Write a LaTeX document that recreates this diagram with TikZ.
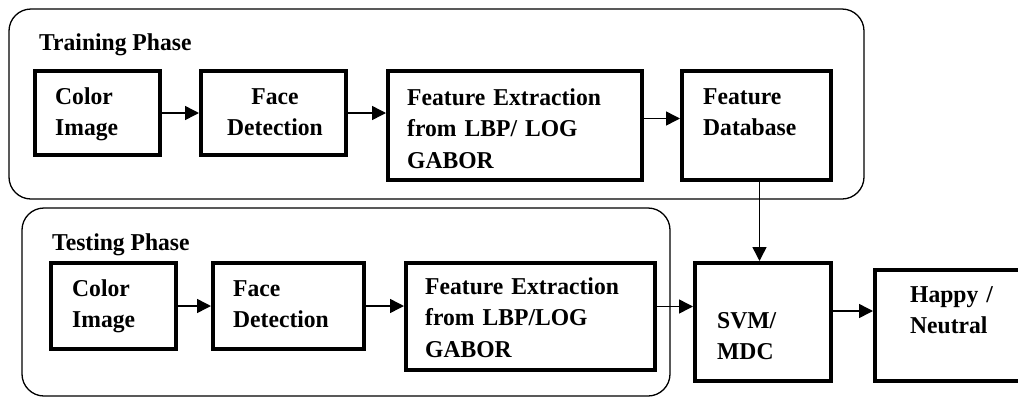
\documentclass[tikz,border=0pt]{standalone}
\usepackage{fontspec}
\setmainfont{Liberation Serif}[FakeStretch=0.975]
\usetikzlibrary{arrows.meta}

\tikzset{
	phase/.style={draw, line width=1.3pt, rounded corners=22pt},
	phasetext/.style={font=\fontsize{24.2}{31.5}\selectfont\bfseries, inner sep=0pt, anchor=base west},
	block/.style={draw, line width=4pt, rectangle, inner sep=0pt, anchor=north west},
	blocktext/.style={font=\fontsize{24.2}{31.5}\selectfont\bfseries, inner sep=0pt, text width=280pt, align=left, anchor=base west},
	flow/.style={line width=1.5pt, -{Triangle[length=14pt,width=14pt]}}
}

\begin{document}
\begin{tikzpicture}[x=1pt,y=-1pt]
		\useasboundingbox (0,0) rectangle (1018,397);
		\clip (0,0) rectangle (1018,397);
		
		% the two rounded frames
		\draw[phase] (9,9) rectangle (864,199);
		\draw[phase] (22,208) rectangle (670,396);
		\node[phasetext] (train) at (39,50) {Training Phase};
		\node[phasetext] (test) at (52,250) {Testing Phase};
		
		% the blocks (top left corner, width, height)
		\foreach \n/\x/\y/\w/\h in {ci1/33/69/125/84, fd1/199/69/145/84, fe1/386/69/254/109, db/680/69/149/109,
			ci2/49/261/125/86, fd2/211/261/151/86, fe2/404/261/249/107, svm/693/261/136/118, hn/873/268/160/111}
		{
			\node[block, minimum width=\w pt, minimum height=\h pt] (\n) at (\x,\y) {};
		}
		
		% texts inside the blocks
		\foreach \n/\x/\y/\texto in {ci1/55/104/{Color\\Image}, fe1/407/105/{Feature Extraction\\from LBP/ LOG\\GABOR},
			db/703/104/{Feature\\Database}, ci2/72/296/{Color\\Image}, fd2/233/296/{Face\\Detection},
			fe2/425/294/{Feature Extraction\\from LBP/LOG\\GABOR}, svm/717/328/{SVM/\\MDC}, hn/910/302/{Happy /\\Neutral}}
		{
			\node[blocktext] (\n-t) at (\x,\y) {\texto};
		}
		\node[blocktext, text width=120pt, align=center, anchor=base] (fd1-t) at (275,104) {Face\\Detection};
		
		% training arrows
		\draw[flow] (ci1) -- (fd1);
		\draw[flow] (fd1.east) -- (fd1.east -| fe1.west);
		\draw[flow] ([yshift=7pt]fe1.east) -- ([yshift=7pt]db.west);
		% database down to the classifier
		\draw[flow] ([xshift=3pt]db.south) -- ([xshift=3pt]db.south |- svm.north);
		% testing arrows
		\draw[flow] (ci2) -- (fd2);
		\draw[flow] (fd2.east) -- (fd2.east -| fe2.west);
		\draw[flow] ([yshift=10pt]fe2.east) -- ([yshift=10pt]fe2.east -| svm.west);
		\draw[flow] ([yshift=11pt]svm.east) -- ([yshift=11pt]svm.east -| hn.west);
	\end{tikzpicture}
\end{document}
